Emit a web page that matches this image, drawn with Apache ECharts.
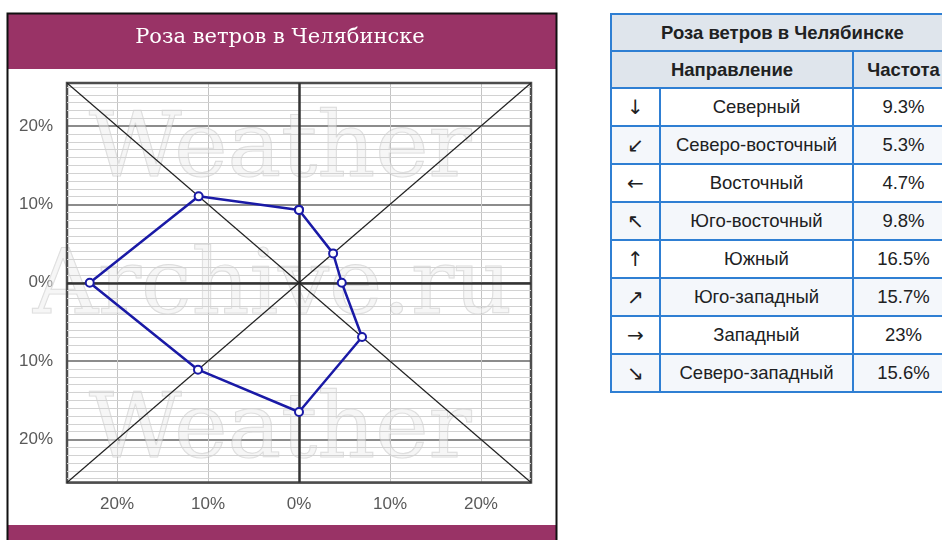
<!DOCTYPE html>
<html lang="ru">
<head>
    <meta charset="UTF-8">
    <title>Роза ветров в Челябинске</title>
    <script src="https://cdn.jsdelivr.net/npm/echarts@6/dist/echarts.min.js"></script>
    <style>
        body {
            margin: 0;
            width: 942px;
            height: 540px;
            overflow: hidden;
            background: #fff;
            position: relative;
        }
        #chart {
            position: absolute;
            left: 0;
            top: 0;
            width: 560px;
            height: 540px;
        }
        #windTable {
            position: absolute;
            left: 610px;
            top: 13px;
            width: 343px;
            border-collapse: collapse;
            font-family: 'Liberation Sans', Arial, sans-serif;
            font-size: 18.5px;
            color: #202122;
            table-layout: fixed;
        }
        #windTable td, #windTable th {
            border: 2px solid #2f7fd3;
            text-align: center;
            padding: 0;
        }
        #windTable th {
            background: #dfe5ec;
            font-weight: bold;
            height: 35px;
        }
        #windTable td {
            height: 36px;
        }
        #windTable tr.alt td {
            background: #f4f7fb;
        }
        #windTable td.arrow {
            font-family: 'DejaVu Sans', sans-serif;
            font-size: 20px;
        }
    </style>
</head>
<body>
    <div id="chart"></div>
    <table id="windTable"></table>

    <script>
        // данные
        const title = 'Роза ветров в Челябинске';
        const directions = ['Северный', 'Северо-восточный', 'Восточный', 'Юго-восточный',
                            'Южный', 'Юго-западный', 'Западный', 'Северо-западный'];
        const arrows = ['↓', '↙', '←', '↖', '↑', '↗', '→', '↘'];
        const frequency = [9.3, 5.3, 4.7, 9.8, 16.5, 15.7, 23, 15.6];
        const axisMax = 25.5;

        // таблица
        const table = document.getElementById('windTable');
        let html = '<colgroup><col style="width:49px"><col style="width:193px"><col style="width:101px"></colgroup>';
        html += '<tr><th colspan="3">' + title + '</th></tr>';
        html += '<tr><th colspan="2">Направление</th><th>Частота</th></tr>';
        directions.forEach((name, i) => {
            html += '<tr class="' + (i % 2 ? 'alt' : '') + '"><td class="arrow">' + arrows[i] +
                '</td><td>' + name + '</td><td>' + frequency[i] + '%</td></tr>';
        });
        table.innerHTML = html;

        // точки розы: север сверху, по часовой стрелке
        const points = frequency.map((r, i) => {
            const a = i * Math.PI / 4;
            return [+(r * Math.sin(a)).toFixed(3), +(r * Math.cos(a)).toFixed(3)];
        });
        points.push(points[0]);

        // вспомогательные линии сетки
        const gridLines = [];
        for (let v = -25; v <= 25; v++) {
            if (v % 10 !== 0) {
                gridLines.push([{ coord: [-axisMax, v] }, { coord: [axisMax, v] }]);
            }
        }
        const axisLines = [
            [{ coord: [-axisMax, 0] }, { coord: [axisMax, 0] }],
            [{ coord: [0, -axisMax] }, { coord: [0, axisMax] }]
        ];
        const diagLines = [
            [{ coord: [-axisMax, axisMax] }, { coord: [axisMax, -axisMax] }],
            [{ coord: [-axisMax, -axisMax] }, { coord: [axisMax, axisMax] }]
        ];

        const labelFmt = v => (Math.abs(v) % 10 === 0 ? Math.abs(v) + '%' : '');
        const maroon = '#993366';
        const markStyle = {
            fill: 'rgba(238,238,238,0.5)',
            stroke: 'rgba(165,165,165,0.4)',
            lineWidth: 1.2,
            font: '90px "DejaVu Serif"',
            verticalAlign: 'top',
            shadowColor: 'rgba(0,0,0,0.12)',
            shadowBlur: 2,
            shadowOffsetX: 1,
            shadowOffsetY: 1
        };

        const chart = echarts.init(document.getElementById('chart'));
        chart.setOption({
            animation: false,
            title: {
                text: title,
                left: 'center',
                top: 27,
                padding: 0,
                textStyle: {
                    color: '#fff',
                    fontFamily: 'DejaVu Serif',
                    fontSize: 21,
                    fontWeight: 'normal'
                }
            },
            graphic: [
                { type: 'rect', z: -10, shape: { x: 7, y: 13, width: 550, height: 56 }, style: { fill: maroon } },
                { type: 'rect', z: -10, shape: { x: 7, y: 525, width: 550, height: 20 }, style: { fill: maroon } },
                { type: 'polyline', z: -9, shape: { points: [[7.5, 540], [7.5, 13.5], [556.5, 13.5], [556.5, 540]] },
                  style: { stroke: '#111', lineWidth: 2, fill: null } },
                { type: 'text', z: 1, x: 89, y: 108, style: Object.assign({ text: 'Weather' }, markStyle) },
                { type: 'text', z: 1, x: 33, y: 245, style: Object.assign({ text: 'Archive.ru' }, markStyle) },
                { type: 'text', z: 1, x: 89, y: 389, style: Object.assign({ text: 'Weather' }, markStyle) }
            ],
            grid: {
                left: 67,
                top: 83,
                width: 464,
                height: 399.5,
                show: true,
                borderColor: '#4d4d4d',
                borderWidth: 2.5,
                z: 4
            },
            xAxis: {
                type: 'value',
                min: -axisMax,
                max: axisMax,
                splitNumber: 5,
                axisLine: { show: false },
                axisTick: { show: false },
                axisLabel: {
                    formatter: labelFmt,
                    margin: 13,
                    color: '#595959',
                    fontSize: 17,
                    fontFamily: 'Liberation Sans'
                },
                splitLine: { lineStyle: { color: '#c4c4c4', width: 1 } }
            },
            yAxis: {
                type: 'value',
                min: -axisMax,
                max: axisMax,
                splitNumber: 5,
                axisLine: { show: false },
                axisTick: { show: false },
                axisLabel: {
                    formatter: labelFmt,
                    margin: 14,
                    color: '#595959',
                    fontSize: 17,
                    fontFamily: 'Liberation Sans',
                    padding: [4, 0, 0, 0]
                },
                splitLine: { lineStyle: { color: '#8c8c8c', width: 2 } }
            },
            series: [
                {
                    type: 'line',
                    data: [],
                    silent: true,
                    z: 0,
                    markLine: {
                        silent: true,
                        symbol: 'none',
                        label: { show: false },
                        lineStyle: { color: '#d2d2d2', width: 1, type: 'solid' },
                        data: gridLines
                    }
                },
                {
                    type: 'line',
                    data: [],
                    silent: true,
                    z: 3,
                    markLine: {
                        silent: true,
                        symbol: 'none',
                        label: { show: false },
                        lineStyle: { color: '#333', width: 2.5, type: 'solid' },
                        data: axisLines
                    }
                },
                {
                    type: 'line',
                    data: [],
                    silent: true,
                    z: 3,
                    markLine: {
                        silent: true,
                        symbol: 'none',
                        label: { show: false },
                        lineStyle: { color: '#222', width: 1.2, type: 'solid' },
                        data: diagLines
                    }
                },
                {
                    type: 'line',
                    data: points,
                    z: 5,
                    symbol: 'circle',
                    symbolSize: 8,
                    lineStyle: { color: '#1a1aa6', width: 2.5 },
                    itemStyle: { color: '#fff', borderColor: '#1a1aa6', borderWidth: 2 }
                }
            ]
        });
    </script>
</body>
</html>
